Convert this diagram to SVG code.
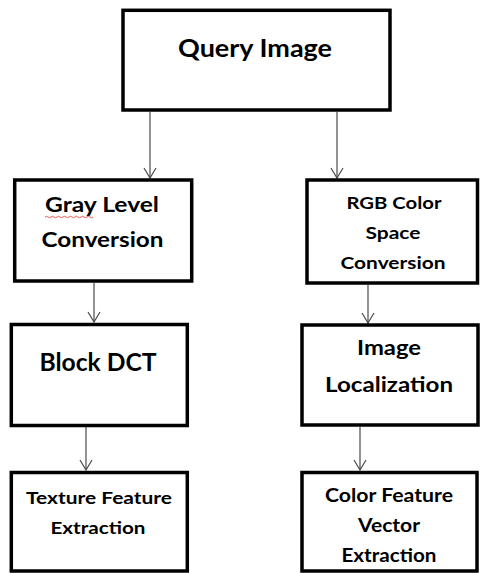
<svg xmlns="http://www.w3.org/2000/svg" width="480" height="573" viewBox="0 0 480 573">
  <style>
    .box { fill: #ffffff; stroke: #000000; stroke-width: 3.5; }
    .lbl { font-family: Lato, "Liberation Sans", sans-serif; font-weight: bold; fill: #000000; text-anchor: middle; }
    .conn { stroke: #4a4a4a; stroke-width: 1.2; fill: none; }
  </style>
  <defs>
    <marker id="arrow" markerWidth="12" markerHeight="14" refX="11" refY="7" orient="auto" markerUnits="userSpaceOnUse" viewBox="0 0 12 14">
      <path d="M1,1 L11,7 L1,13" fill="none" stroke="#4a4a4a" stroke-width="1.2"/>
    </marker>
  </defs>
  <rect width="480" height="573" fill="#ffffff"/>

  <g id="connectors">
    <line class="conn" x1="150" y1="112" x2="150" y2="178" marker-end="url(#arrow)"/>
    <line class="conn" x1="337" y1="112" x2="337" y2="178" marker-end="url(#arrow)"/>
    <line class="conn" x1="94" y1="283" x2="94" y2="322" marker-end="url(#arrow)"/>
    <line class="conn" x1="368" y1="285" x2="368" y2="323" marker-end="url(#arrow)"/>
    <line class="conn" x1="86" y1="427" x2="86" y2="470" marker-end="url(#arrow)"/>
    <line class="conn" x1="360" y1="427" x2="360" y2="470" marker-end="url(#arrow)"/>
  </g>

  <g id="query-image">
    <rect class="box" x="123" y="10.3" width="267" height="99.7"/>
    <text class="lbl" x="255" y="57" font-size="24" textLength="154" lengthAdjust="spacingAndGlyphs">Query Image</text>
  </g>

  <g id="gray-level-conversion">
    <rect class="box" x="14.7" y="180" width="177" height="101"/>
    <text class="lbl" x="102" y="212" font-size="21" textLength="114" lengthAdjust="spacingAndGlyphs">Gray Level</text>
    <text class="lbl" x="102.5" y="247" font-size="21" textLength="122" lengthAdjust="spacingAndGlyphs">Conversion</text>
    <path d="M45,217 q1.5,-1.5 3,0 t3,0 t3,0 t3,0 t3,0 t3,0 t3,0 t3,0 t3,0 t3,0 t3,0 t3,0 t3,0 t3,0 t3,0 t3,0" fill="none" stroke="#e03030" stroke-width="0.8"/>
  </g>

  <g id="rgb-color-space-conversion">
    <rect class="box" x="307" y="180" width="170.5" height="103"/>
    <text class="lbl" x="394" y="209" font-size="17.5" textLength="95" lengthAdjust="spacingAndGlyphs">RGB Color</text>
    <text class="lbl" x="393" y="239" font-size="17.5" textLength="55" lengthAdjust="spacingAndGlyphs">Space</text>
    <text class="lbl" x="393" y="269" font-size="17.5" textLength="105" lengthAdjust="spacingAndGlyphs">Conversion</text>
  </g>

  <g id="block-dct">
    <rect class="box" x="11.3" y="324.5" width="176" height="101"/>
    <text class="lbl" x="98" y="371" font-size="24" textLength="117" lengthAdjust="spacingAndGlyphs">Block DCT</text>
  </g>

  <g id="image-localization">
    <rect class="box" x="302" y="325" width="176" height="100"/>
    <text class="lbl" x="389" y="355" font-size="20" textLength="64" lengthAdjust="spacingAndGlyphs">Image</text>
    <text class="lbl" x="389" y="392" font-size="20" textLength="128" lengthAdjust="spacingAndGlyphs">Localization</text>
  </g>

  <g id="texture-feature-extraction">
    <rect class="box" x="11.3" y="472.5" width="176" height="98.5"/>
    <text class="lbl" x="99" y="504" font-size="17" textLength="146" lengthAdjust="spacingAndGlyphs">Texture Feature</text>
    <text class="lbl" x="98" y="534" font-size="17" textLength="95" lengthAdjust="spacingAndGlyphs">Extraction</text>
  </g>

  <g id="color-feature-vector-extraction">
    <rect class="box" x="302" y="472.5" width="175" height="98.5"/>
    <text class="lbl" x="389" y="502" font-size="19" textLength="128" lengthAdjust="spacingAndGlyphs">Color Feature</text>
    <text class="lbl" x="389" y="532" font-size="19" textLength="62" lengthAdjust="spacingAndGlyphs">Vector</text>
    <text class="lbl" x="389" y="562" font-size="19" textLength="95" lengthAdjust="spacingAndGlyphs">Extraction</text>
  </g>
</svg>
